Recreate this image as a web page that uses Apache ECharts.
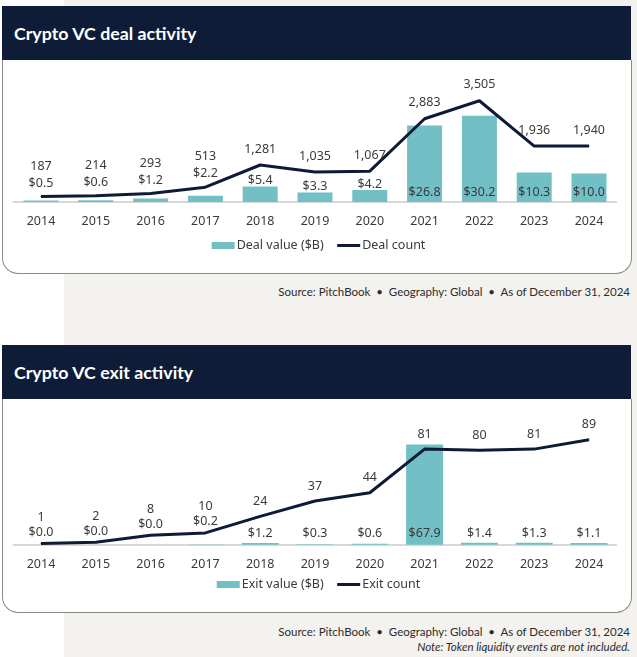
<!DOCTYPE html>
<html>
<head>
<meta charset="utf-8">
<script src="https://cdn.jsdelivr.net/npm/echarts@6/dist/echarts.min.js"></script>
<style>
  html, body { margin:0; padding:0; }
  body { width:637px; height:657px; position:relative; background:#ffffff; overflow:hidden; font-family: Lato, "Liberation Sans", sans-serif; }
  #beige { position:absolute; left:64px; top:0; width:573px; height:657px; background:#f4f2ee; }
  .hdr { position:absolute; left:2px; width:629px; height:54px; background:#0e1c38; color:#ffffff;
         font-family: Lato, "Liberation Sans", sans-serif; font-weight:700; font-size:17.8px; line-height:54px;
         box-sizing:border-box; padding-left:12px; }
  .box { position:absolute; left:2px; width:630px; height:214px; background:#ffffff; box-sizing:border-box;
         border:1px solid #8a8a84; border-top:none; border-radius:0 0 16px 16px; }
  .src { position:absolute; right:7px; font-size:11.5px; color:#2b2b2b; white-space:nowrap; line-height:14px; }
  .note { font-style:italic; }
  #chart { position:absolute; left:0; top:0; width:637px; height:657px; }
</style>
</head>
<body>
<div id="beige"></div>
<div class="hdr" style="top:6px">Crypto VC deal activity</div>
<div class="box" style="top:60px"></div>
<div class="src" style="top:285px">Source: PitchBook&nbsp; •&nbsp; Geography: Global&nbsp; •&nbsp; As of December 31, 2024</div>
<div class="hdr" style="top:345px">Crypto VC exit activity</div>
<div class="box" style="top:399px"></div>
<div class="src" style="top:625px">Source: PitchBook&nbsp; •&nbsp; Geography: Global&nbsp; •&nbsp; As of December 31, 2024</div>
<div class="src note" style="top:640px">Note: Token liquidity events are not included.</div>
<div id="chart"></div>
<script>
const years = ['2014','2015','2016','2017','2018','2019','2020','2021','2022','2023','2024'];
const dealValue = [0.5, 0.6, 1.2, 2.2, 5.4, 3.3, 4.2, 26.8, 30.2, 10.3, 10.0];
const dealCount = [187, 214, 293, 513, 1281, 1035, 1067, 2883, 3505, 1936, 1940];
const exitValue = [0.0, 0.0, 0.0, 0.2, 1.2, 0.3, 0.6, 67.9, 1.4, 1.3, 1.1];
const exitCount = [1, 2, 8, 10, 24, 37, 44, 81, 80, 81, 89];

// label placement style per category (not data)
const dealLabelMode = ['stack','stack','stack','stack','top','top','top','inside','inside','inside','inside'];
const exitLabelMode = ['stack','stack','stack','stack','inside','inside','inside','inside','inside','inside','inside'];

const TEAL = '#72bfc6';
const NAVY = '#0e1a36';
const TXT = '#3a3a3a';
const FONT = '"Noto Sans", "Open Sans", "Liberation Sans", sans-serif';
const FS = 12.5;

const fmtVal = v => '$' + v.toFixed(1);
const fmtCnt = v => v.toLocaleString('en-US');

function barData(values, modes, topDist, insideDist) {
  return values.map((v, i) => ({
    value: v,
    label: {
      show: modes[i] !== 'stack',
      position: modes[i] === 'top' ? 'top' : 'insideBottom',
      distance: modes[i] === 'top' ? topDist : insideDist
    }
  }));
}
function lineData(counts, values, modes, stackDist, singleDist) {
  return counts.map((c, i) => ({
    value: c,
    label: {
      formatter: modes[i] === 'stack' ? (fmtCnt(c) + '\n' + fmtVal(values[i])) : fmtCnt(c),
      distance: modes[i] === 'stack' ? stackDist : singleDist
    }
  }));
}

const labelBase = { color: TXT, fontFamily: FONT, fontSize: FS };

function xAxis(gridIndex) {
  return {
    type: 'category', gridIndex, data: years, boundaryGap: true,
    axisTick: { show: false },
    axisLine: { lineStyle: { color: '#d8d8d8', width: 2 } },
    axisLabel: { color: TXT, fontFamily: FONT, fontSize: FS, margin: 13 }
  };
}

function legend(top, names) {
  return {
    left: 'center', top, padding: 0, itemWidth: 23, itemHeight: 7, itemGap: 12,
    textStyle: { color: TXT, fontFamily: FONT, fontSize: FS, padding: [0, 0, 0, -3] },
    data: [
      { name: names[0], icon: 'rect' },
      { name: names[1], itemStyle: { color: 'rgba(0,0,0,0)', borderWidth: 0 }, lineStyle: { color: NAVY, width: 3 } }
    ]
  };
}

const chart = echarts.init(document.getElementById('chart'), null, { renderer: 'canvas' });
chart.setOption({
  animation: false,
  backgroundColor: 'transparent',
  grid: [
    { left: 13.6, right: 20.6, top: 72, height: 130 },
    { left: 13.6, right: 20.6, top: 426.7, height: 118 }
  ],
  legend: [
    legend(239, ['Deal value ($B)', 'Deal count']),
    legend(578, ['Exit value ($B)', 'Exit count'])
  ],
  xAxis: [xAxis(0), xAxis(1)],
  yAxis: [
    { type: 'value', gridIndex: 0, min: 0, max: 45.5, show: false },
    { type: 'value', gridIndex: 0, min: 0, max: 4500, show: false },
    { type: 'value', gridIndex: 1, min: 0, max: 80, show: false },
    { type: 'value', gridIndex: 1, min: 0, max: 100, show: false }
  ],
  series: [
    {
      name: 'Deal value ($B)', type: 'bar', xAxisIndex: 0, yAxisIndex: 0, barWidth: 35,
      itemStyle: { color: TEAL },
      label: Object.assign({ show: true, formatter: p => fmtVal(p.value), lineHeight: 15 }, labelBase),
      data: barData(dealValue, dealLabelMode, -1.5, 2.5)
    },
    {
      name: 'Deal count', type: 'line', xAxisIndex: 0, yAxisIndex: 1,
      symbol: 'circle', symbolSize: 1, showSymbol: true,
      lineStyle: { color: NAVY, width: 3 }, itemStyle: { color: NAVY }, z: 5,
      label: Object.assign({ show: true, position: 'top', lineHeight: 17 }, labelBase),
      data: lineData(dealCount, dealValue, dealLabelMode, 4.5, 7)
    },
    {
      name: 'Exit value ($B)', type: 'bar', xAxisIndex: 1, yAxisIndex: 2, barWidth: 37,
      itemStyle: { color: TEAL },
      label: Object.assign({ show: true, formatter: p => fmtVal(p.value), lineHeight: 15 }, labelBase),
      data: barData(exitValue, exitLabelMode, 0.5, 3.5)
    },
    {
      name: 'Exit count', type: 'line', xAxisIndex: 1, yAxisIndex: 3,
      symbol: 'circle', symbolSize: 1, showSymbol: true,
      lineStyle: { color: NAVY, width: 3 }, itemStyle: { color: NAVY }, z: 5,
      label: Object.assign({ show: true, position: 'top', lineHeight: 15 }, labelBase),
      data: lineData(exitCount, exitValue, exitLabelMode, 3, 7)
    }
  ]
});
</script>
</body>
</html>
